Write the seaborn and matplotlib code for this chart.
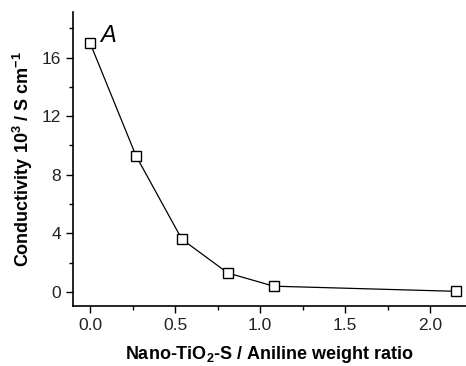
import matplotlib
matplotlib.use("Agg")
import matplotlib.pyplot as plt
import seaborn as sns
import pandas as pd
from matplotlib.ticker import MultipleLocator

ratio = [0.0, 0.27, 0.54, 0.81, 1.08, 2.15]
conductivity = [17.0, 9.3, 3.6, 1.3, 0.4, 0.05]
x_label = "Nano-TiO$_\\mathbf{2}$-S / Aniline weight ratio"
y_label = "Conductivity 10$^\\mathbf{3}$ / S cm$^\\mathbf{-1}$"

sns.set_style("ticks")
plt.rcParams['font.family'] = ['Liberation Sans', 'DejaVu Sans']
plt.rcParams['mathtext.fontset'] = 'custom'
plt.rcParams['mathtext.rm'] = 'Liberation Sans'
plt.rcParams['mathtext.bf'] = 'Liberation Sans:bold'
plt.rcParams['text.color'] = 'black'
plt.rcParams['axes.labelcolor'] = 'black'

df = pd.DataFrame({"ratio": ratio, "cond": conductivity})

fig = plt.figure(figsize=(4.66, 3.66), dpi=100)
ax = fig.add_axes([0.1567, 0.164, 0.8433, 0.803])
sns.lineplot(data=df, x="ratio", y="cond", ax=ax, color="black", linewidth=0.9,
             marker="s", markersize=7, markerfacecolor="white",
             markeredgecolor="black", markeredgewidth=1.0)

ax.set_xlim(-0.1, 2.21)
ax.set_ylim(-0.95, 19.1)
ax.xaxis.set_major_locator(MultipleLocator(0.5))
ax.xaxis.set_minor_locator(MultipleLocator(0.25))
ax.yaxis.set_major_locator(MultipleLocator(4))
ax.yaxis.set_minor_locator(MultipleLocator(2))
ax.tick_params(which='major', direction='out', length=5, width=1, labelsize=12.5,
               colors='black', labelcolor='#222222')
ax.tick_params(which='minor', direction='out', length=3, width=1, colors='black')
ax.xaxis.set_major_formatter(matplotlib.ticker.FormatStrFormatter('%.1f'))
for s in ['top', 'right']:
    ax.spines[s].set_visible(False)
for s in ['left', 'bottom']:
    ax.spines[s].set_linewidth(1.2)
    ax.spines[s].set_color('black')

ax.set_xlabel(x_label, fontsize=13, fontweight='bold', labelpad=8, color='black')
ax.set_ylabel(y_label, fontsize=13, fontweight='bold', labelpad=5, color='black')
ax.text(0.06, 17.5, "A", fontsize=17, fontstyle='italic', ha='left', va='center', color='black')

fig.savefig("out.png", dpi=100)
